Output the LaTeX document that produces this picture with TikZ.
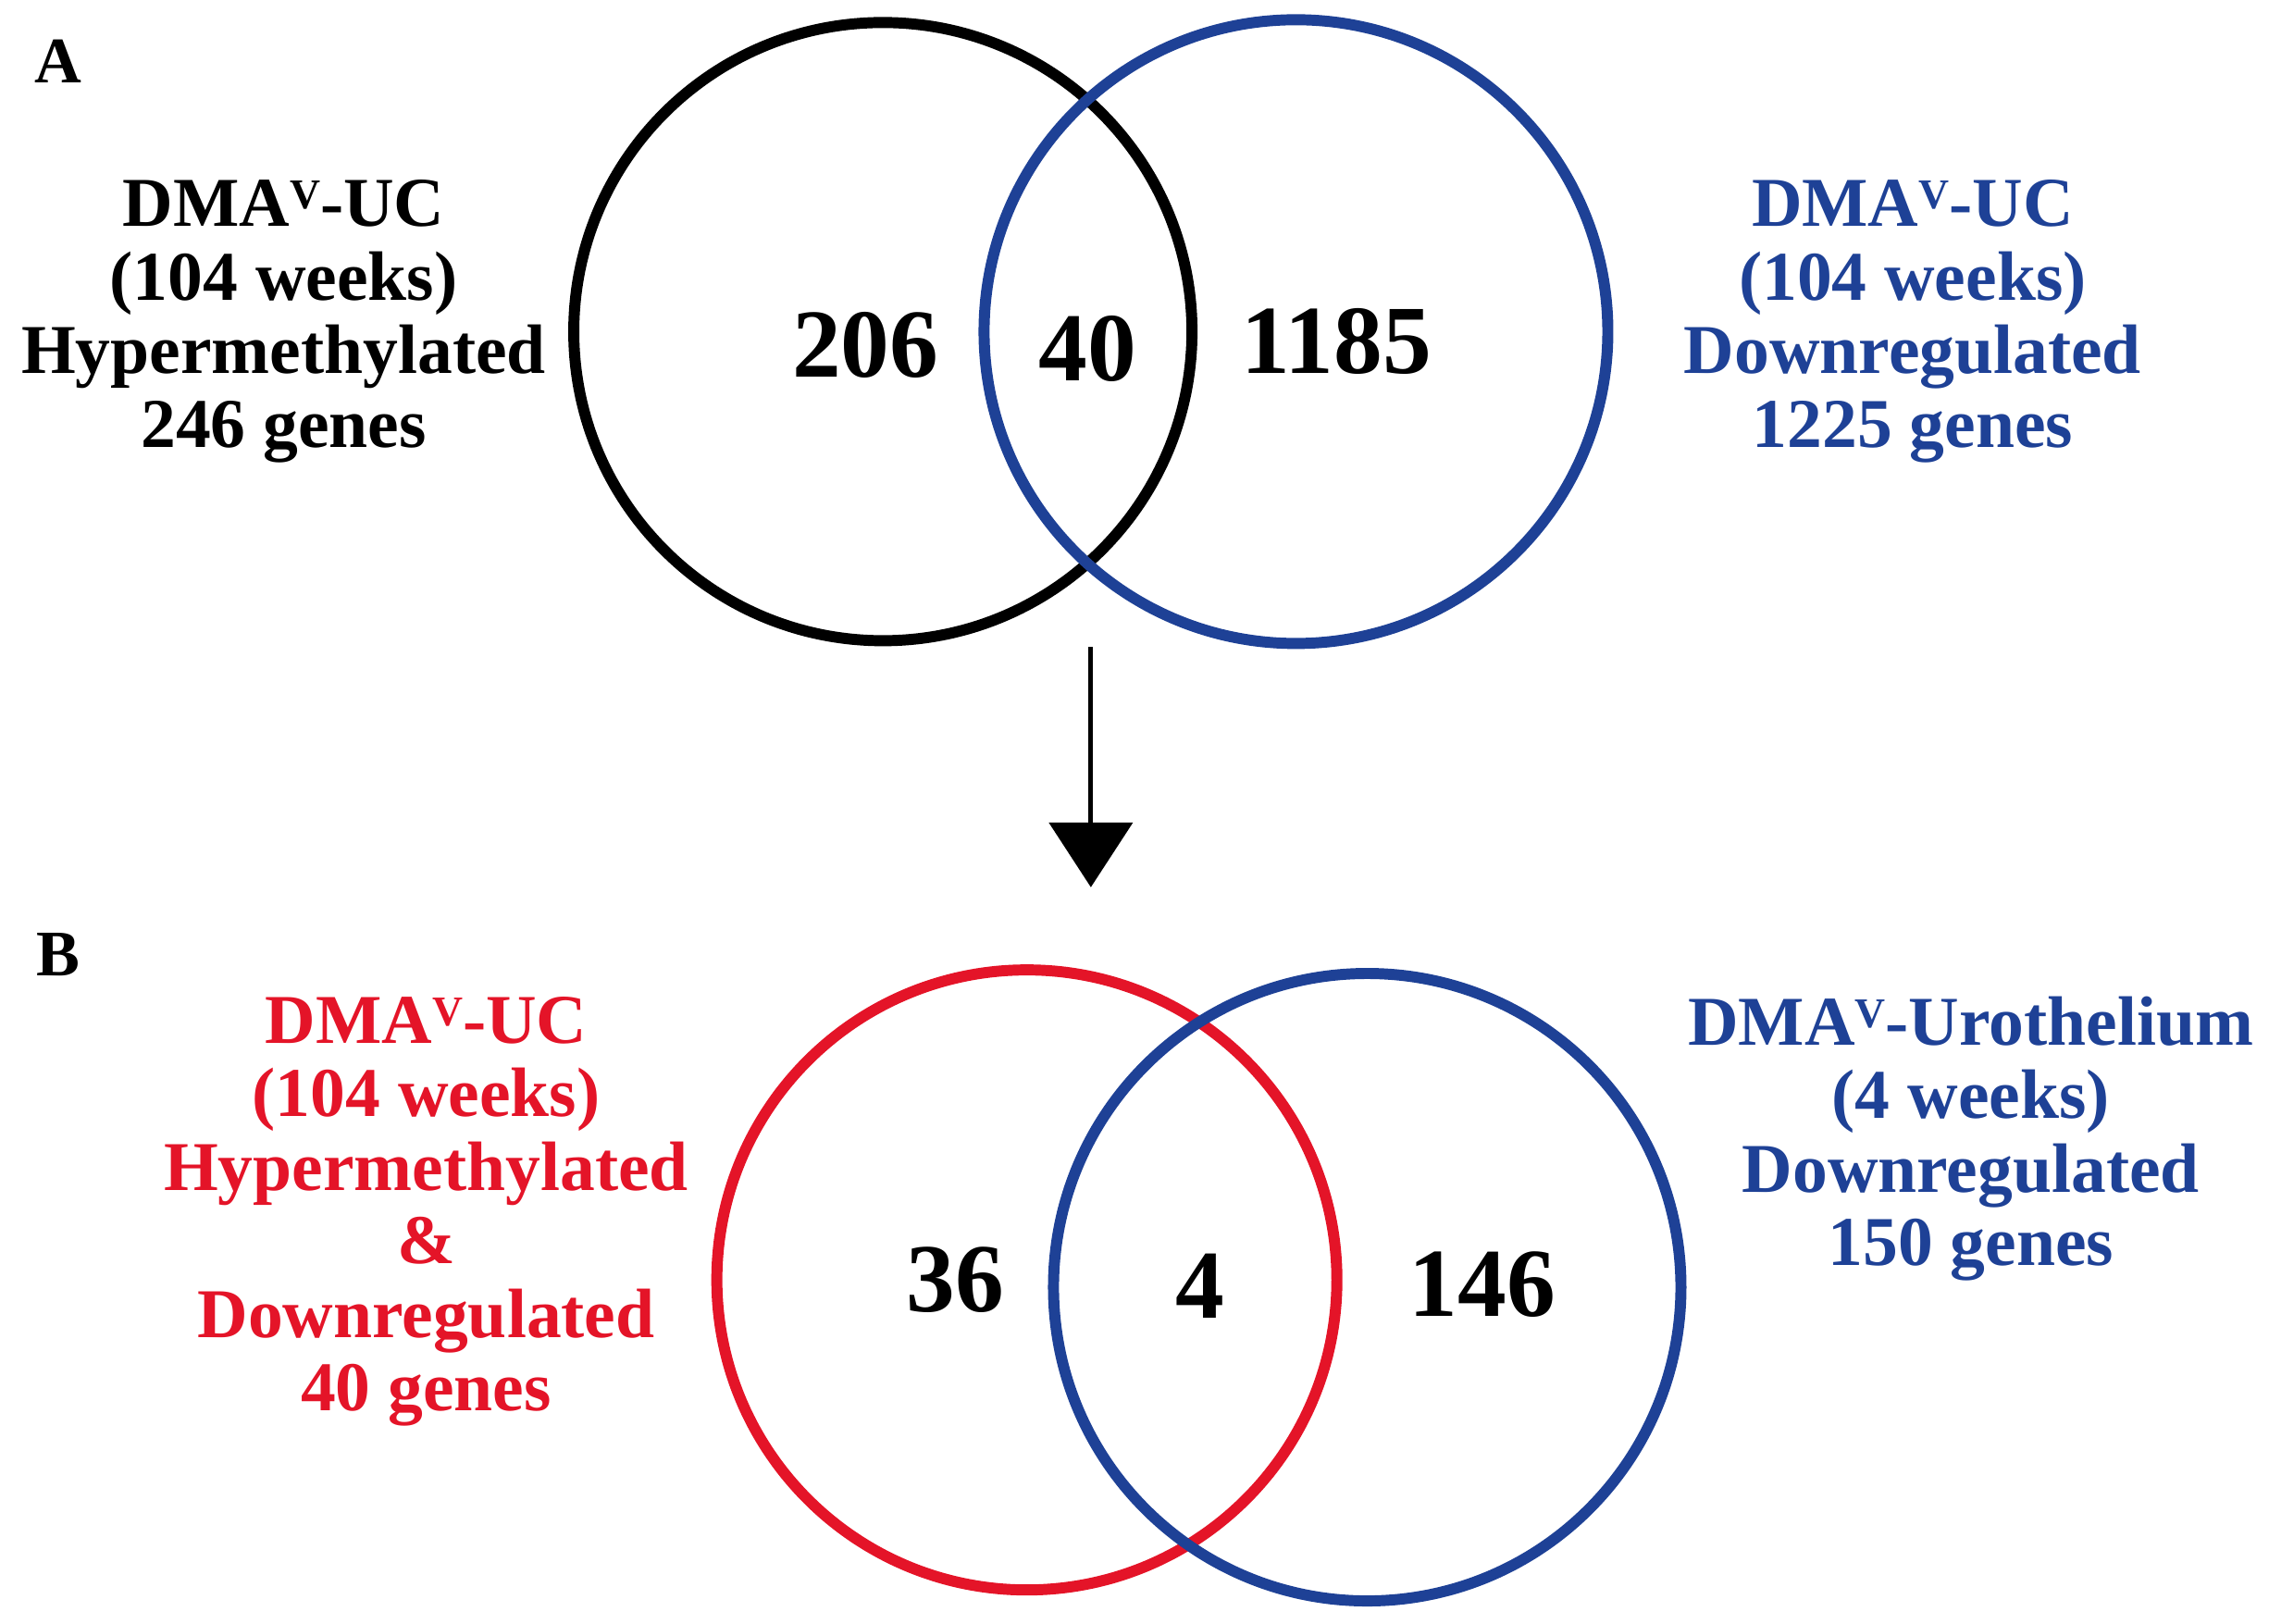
\documentclass[tikz,border=0pt]{standalone}
\usepackage{fontspec}
\setmainfont{Liberation Serif}
\usetikzlibrary{arrows.meta}
\definecolor{myblue}{RGB}{30,65,150}
\definecolor{myred}{RGB}{228,20,40}
\newcommand{\supV}{\raisebox{0.55ex}{\fontsize{13}{13}\selectfont V}}
\begin{document}
\begin{tikzpicture}[x=0.01572cm,y=-0.01572cm,
  venn/.style={circle,draw,line width=3.4pt,inner sep=0pt},
  lab/.style={align=center,font=\fontsize{21.5}{22.6}\selectfont\bfseries},
  num/.style={font=\fontsize{30}{32}\selectfont\bfseries},
  panel/.style={font=\fontsize{20}{22}\selectfont\bfseries}]
\useasboundingbox (0,0) rectangle (1560,1116);
\node[panel] (pA) at (40,42) {A};
\node[panel] (pB) at (40,656) {B};
\node[venn,minimum size=6.68cm] (a1) at (607,228) {};
\node[venn,myblue,minimum size=6.74cm] (a2) at (891,228) {};
\node[venn,myred,minimum size=6.70cm] (b1) at (706,880) {};
\node[venn,myblue,minimum size=6.78cm] (b2) at (940,885) {};
\node[lab] (la) at (195,221) {DMA\supV-UC\\(104 weeks)\\Hypermethylated\\246 genes};
\node[lab,text=myblue] (ra) at (1315,221) {DMA\supV-UC\\(104 weeks)\\Downregulated\\1225 genes};
\node[lab,text=myred] (lb) at (293,833) {DMA\supV-UC\\(104 weeks)\\Hypermethylated\\\&\\Downregulated\\40 genes};
\node[lab,text=myblue] (rb) at (1355,783) {DMA\supV-Urothelium\\(4 weeks)\\Downregulated\\150 genes};
\node[num] (n1) at (595,237) {206};
\node[num] (n2) at (748,240) {40};
\node[num] (n3) at (919,235) {1185};
\node[num] (n4) at (657,880) {36};
\node[num] (n5) at (825,884) {4};
\node[num] (n6) at (1019,883) {146};
\coordinate (s) at (750,445);
\coordinate (e) at (750,610);
\draw[line width=1.4pt,-{Triangle[length=0.7cm,width=0.9cm]}] (s) -- (e);
\end{tikzpicture}
\end{document}
